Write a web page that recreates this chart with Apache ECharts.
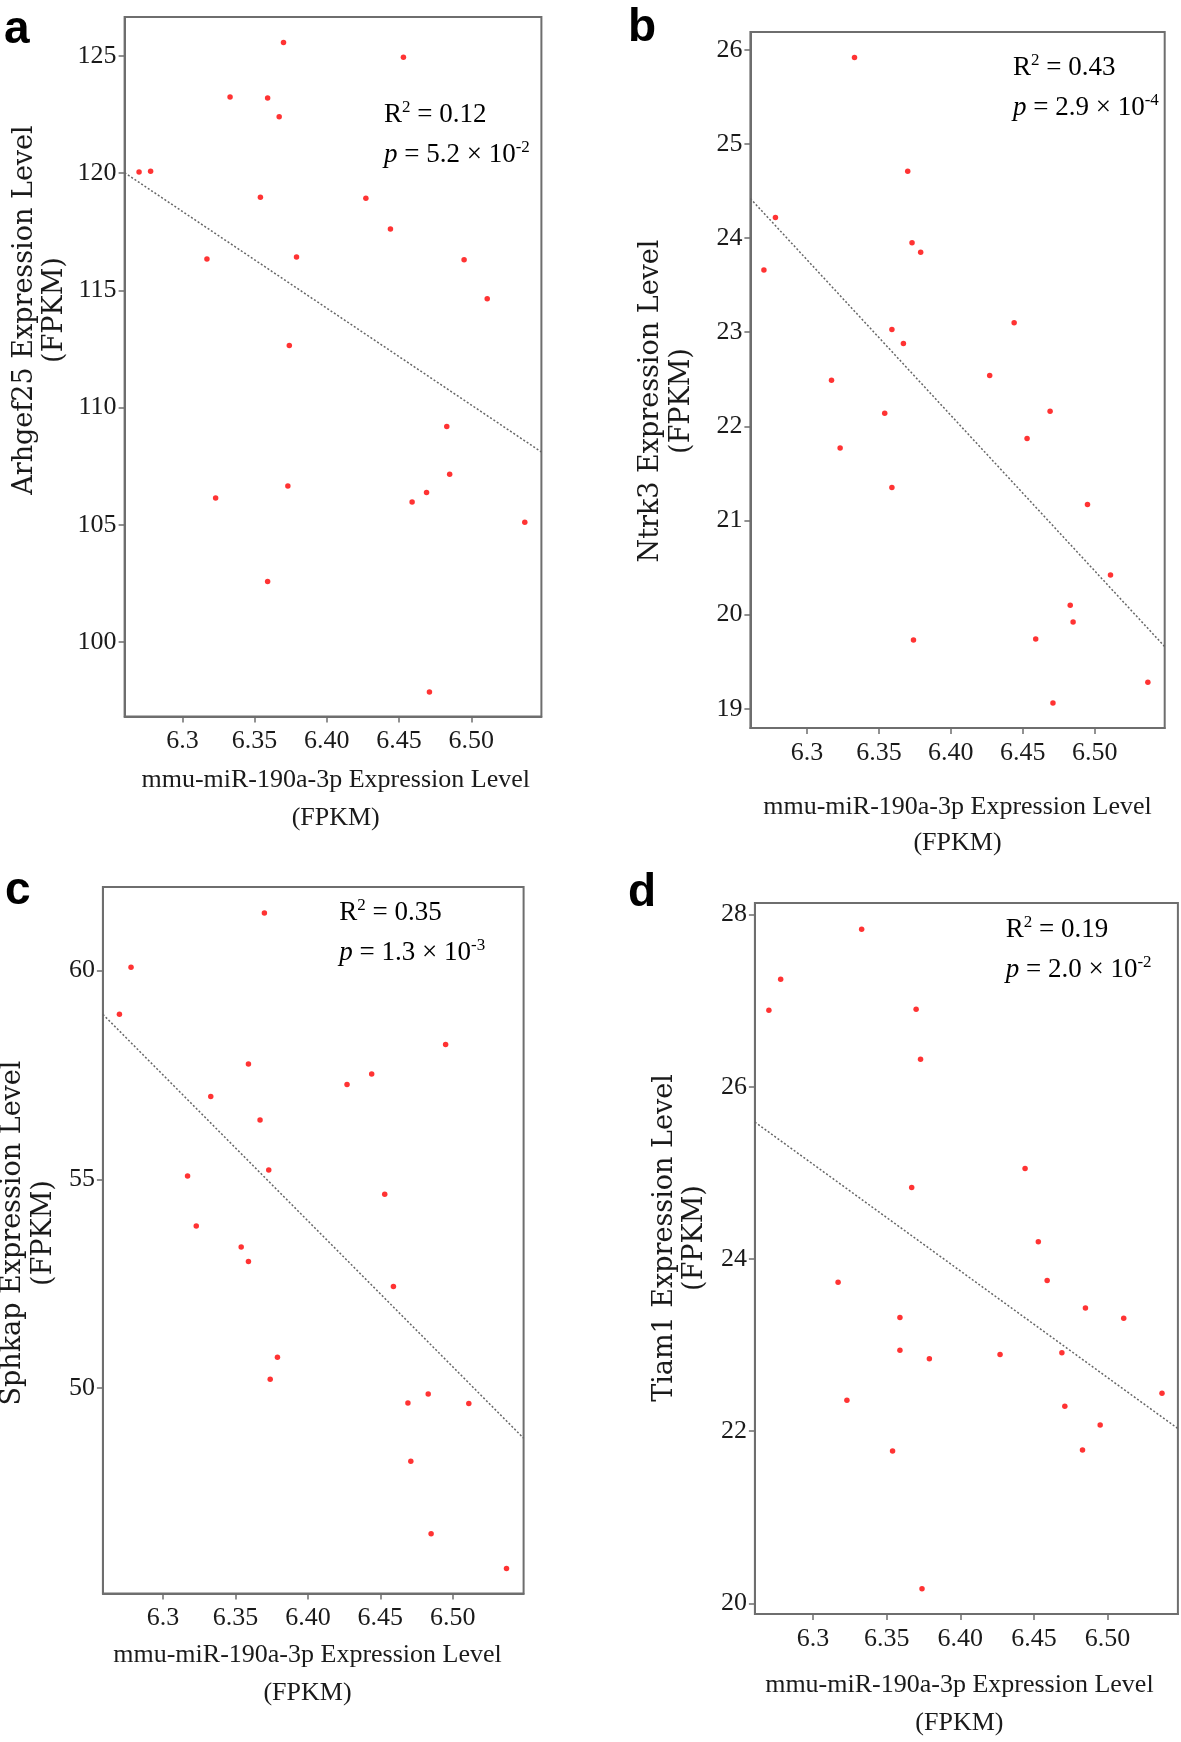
<!DOCTYPE html>
<html>
<head>
<meta charset="utf-8" />
<title>mmu-miR-190a-3p correlations</title>
<script src="https://cdn.jsdelivr.net/npm/echarts@6.0.0/dist/echarts.min.js"></script>
<style>
    html, body { margin: 0; padding: 0; background: #fff; }
    #main { width: 1181px; height: 1742px; }
</style>
</head>
<body>
<div id="main"></div>
<script type="text/javascript">
    // x: mmu-miR-190a-3p expression (FPKM), same 24 samples in every panel
    var mirX = [6.270, 6.278, 6.317, 6.323, 6.333, 6.354, 6.359, 6.359, 6.367, 6.370, 6.373, 6.374,
        6.379, 6.427, 6.444, 6.453, 6.459, 6.469, 6.471, 6.483, 6.485, 6.495, 6.511, 6.537];

    // y: target gene expression (FPKM), same sample order as mirX
    var arhgef25 = [120.05, 120.08, 116.34, 106.15, 123.25, 118.97, 123.21, 102.59, 122.41, 125.57, 106.66, 112.65,
        116.43, 118.93, 117.62, 124.94, 105.98, 106.38, 97.87, 109.20, 107.16, 116.31, 114.64, 105.11];
    var ntrk3 = [23.66, 24.22, 22.49, 21.77, 25.92, 22.14, 23.03, 21.35, 22.88, 24.71, 23.95, 19.73,
        23.85, 22.54, 23.10, 21.87, 19.74, 22.16, 19.06, 20.10, 19.92, 21.17, 20.42, 19.28];
    var sphkap = [58.95, 60.08, 55.08, 53.88, 56.98, 53.38, 57.76, 53.03, 56.42, 61.38, 55.22, 50.21,
        50.74, 57.27, 57.52, 54.64, 52.43, 49.64, 48.25, 49.86, 46.51, 58.23, 49.63, 45.68];
    var tiam1 = [26.89, 27.25, 23.73, 22.36, 27.83, 21.77, 23.32, 22.94, 24.83, 26.90, 26.32, 20.17,
        22.84, 22.89, 25.05, 24.20, 23.75, 22.91, 22.29, 21.78, 23.43, 22.07, 23.31, 22.44];

    // fitted lines, end points
    var fitArhgef25 = [[6.26, 120.02], [6.5485, 108.11]];
    var fitNtrk3 = [[6.2606, 24.42], [6.5487, 19.66]];
    var fitSphkap = [[6.2586, 58.95], [6.5488, 48.80]];
    var fitTiam1 = [[6.2605, 25.59], [6.5478, 22.03]];

    // ticks
    var xTicks = [6.3, 6.35, 6.4, 6.45, 6.5];
    var xTickLabels = ['6.3', '6.35', '6.40', '6.45', '6.50'];
    var ticksArhgef25 = [100, 105, 110, 115, 120, 125];
    var ticksNtrk3 = [19, 20, 21, 22, 23, 24, 25, 26];
    var ticksSphkap = [50, 55, 60];
    var ticksTiam1 = [20, 22, 24, 26, 28];

    var genes = ['Arhgef25', 'Ntrk3', 'Sphkap', 'Tiam1'];
    var rSquared = ['0.12', '0.43', '0.35', '0.19'];
    var pMantissa = ['5.2', '2.9', '1.3', '2.0'];
    var pExponent = ['-2', '-4', '-3', '-2'];

    var serif = '"Liberation Serif", "DejaVu Serif", serif';
    var wideSerif = '"DejaVu Serif", serif';
    var frame = '#6e6e6e';

    var panels = [
        { letter: 'a', ys: arhgef25, fit: fitArhgef25, yTicks: ticksArhgef25,
          grid: { left: 124.6, top: 17, width: 416.8, height: 699.5 },
          x: [6.26, 6.5485], y: [96.83, 126.66],
          letterPos: [4, 53], yTitle: [25, 55.4, 310], xTitle: [335.7, 780, 818], stat: [384, 115, 155] },
        { letter: 'b', ys: ntrk3, fit: fitNtrk3, yTicks: ticksNtrk3,
          grid: { left: 750.4, top: 32, width: 414.3, height: 696 },
          x: [6.2606, 6.5487], y: [18.795, 26.19],
          letterPos: [628, 51], yTitle: [650.8, 682.3, 401], xTitle: [957.5, 807, 843], stat: [1013, 68, 108] },
        { letter: 'c', ys: sphkap, fit: fitSphkap, yTicks: ticksSphkap,
          grid: { left: 102.9, top: 887, width: 420.7, height: 706.5 },
          x: [6.2586, 6.5488], y: [45.08, 62.0],
          letterPos: [5, 914], yTitle: [13.2, 43.6, 1233], xTitle: [307.5, 1655, 1693], stat: [339.3, 913, 953] },
        { letter: 'd', ys: tiam1, fit: fitTiam1, yTicks: ticksTiam1,
          grid: { left: 754.9, top: 903, width: 423, height: 711 },
          x: [6.2605, 6.5478], y: [19.876, 28.135],
          letterPos: [628, 916], yTitle: [664.8, 695, 1238], xTitle: [959.4, 1685, 1723], stat: [1005.7, 930, 970] }
    ];

    function plainText(txt, x, y, font, rotation) {
        return {
            type: 'text', x: x, y: y, rotation: rotation || 0, silent: true,
            style: { text: txt, font: font, fill: '#1a1a1a', align: 'center', verticalAlign: 'middle',
                     textAlign: 'center', textVerticalAlign: 'middle' }
        };
    }

    var statRich = {
        n: { fontFamily: serif, fontSize: 27, lineHeight: 32, color: '#1a1a1a' },
        i: { fontFamily: serif, fontSize: 27, fontStyle: 'italic', lineHeight: 32, color: '#1a1a1a' },
        s: { fontFamily: serif, fontSize: 17, lineHeight: 17, verticalAlign: 'top', color: '#1a1a1a' }
    };

    var grids = [], xAxes = [], yAxes = [], series = [], graphics = [];

    panels.forEach(function(p, k) {
        grids.push({ left: p.grid.left, top: p.grid.top, width: p.grid.width, height: p.grid.height,
            show: true, borderColor: frame, borderWidth: 2, backgroundColor: '#fff' });

        xAxes.push({
            type: 'value', gridIndex: k, min: p.x[0], max: p.x[1],
            axisLine: { show: true, lineStyle: { color: frame, width: 2 } },
            axisTick: { show: true, length: 6, customValues: xTicks, lineStyle: { color: frame, width: 1.5 } },
            axisLabel: { customValues: xTicks, margin: 12, fontFamily: serif, fontSize: 26, color: '#1a1a1a',
                formatter: function(v) {
                    var idx = xTicks.indexOf(Math.round(v * 100) / 100);
                    return idx >= 0 ? xTickLabels[idx] : '';
                } },
            splitLine: { show: false }
        });

        yAxes.push({
            type: 'value', gridIndex: k, min: p.y[0], max: p.y[1],
            axisLine: { show: true, lineStyle: { color: frame, width: 2 } },
            axisTick: { show: true, length: 6, customValues: p.yTicks, lineStyle: { color: frame, width: 1.5 } },
            axisLabel: { customValues: p.yTicks, margin: 8, fontFamily: serif, fontSize: 26, color: '#1a1a1a' },
            splitLine: { show: false }
        });

        series.push({
            type: 'line', xAxisIndex: k, yAxisIndex: k, data: p.fit, symbol: 'none', silent: true,
            lineStyle: { color: '#666', width: 1.5, type: [2, 2] }, z: 2
        });
        series.push({
            type: 'scatter', xAxisIndex: k, yAxisIndex: k, symbolSize: 5.5, z: 3,
            itemStyle: { color: '#ff0000' },
            data: mirX.map(function(xv, i) { return [xv, p.ys[i]]; })
        });

        // panel letter
        graphics.push({
            type: 'text', x: p.letterPos[0], y: p.letterPos[1], silent: true,
            style: { text: p.letter, font: 'bold 46px "Liberation Sans", Arial, sans-serif', fill: '#000',
                     align: 'left', verticalAlign: 'bottom', textAlign: 'left', textVerticalAlign: 'bottom' }
        });
        // y axis title (two lines)
        graphics.push(plainText(genes[k] + ' Expression Level', p.yTitle[0], p.yTitle[2], '27px ' + wideSerif, Math.PI / 2));
        graphics.push(plainText('(FPKM)', p.yTitle[1], p.yTitle[2], '27px ' + wideSerif, Math.PI / 2));
        // x axis title (two lines)
        graphics.push(plainText('mmu-miR-190a-3p Expression Level', p.xTitle[0], p.xTitle[1], '26px ' + serif));
        graphics.push(plainText('(FPKM)', p.xTitle[0], p.xTitle[2], '26px ' + serif));
        // statistics
        graphics.push({
            type: 'text', x: p.stat[0], y: p.stat[1], silent: true,
            style: { text: '{n|R}{s|2}{n| = ' + rSquared[k] + '}', rich: statRich,
                     align: 'left', verticalAlign: 'middle', textAlign: 'left', textVerticalAlign: 'middle' }
        });
        graphics.push({
            type: 'text', x: p.stat[0], y: p.stat[2], silent: true,
            style: { text: '{i|p}{n| = ' + pMantissa[k] + ' \u00d7 10}{s|' + pExponent[k] + '}', rich: statRich,
                     align: 'left', verticalAlign: 'middle', textAlign: 'left', textVerticalAlign: 'middle' }
        });
    });

    var chart = echarts.init(document.getElementById('main'), null, { renderer: 'canvas' });
    chart.setOption({
        backgroundColor: '#fff',
        animation: false,
        grid: grids,
        xAxis: xAxes,
        yAxis: yAxes,
        series: series,
        graphic: { elements: graphics }
    });
</script>
</body>
</html>
